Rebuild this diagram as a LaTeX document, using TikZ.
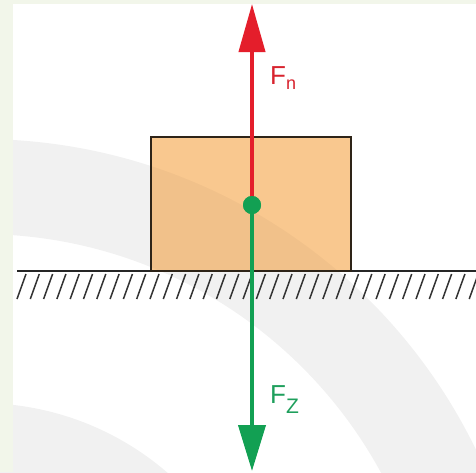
\documentclass[tikz,border=0pt]{standalone}
\usepackage{fontspec}
\setmainfont{Liberation Sans}
\usetikzlibrary{arrows.meta}
\definecolor{boxfill}{HTML}{F9C88F}
\definecolor{boxline}{HTML}{2E2418}
\definecolor{fred}{HTML}{E41E2B}
\definecolor{fgreen}{HTML}{12A053}
\definecolor{tred}{HTML}{D8232E}
\definecolor{tgreen}{HTML}{1E9F5C}
\definecolor{strip}{HTML}{F2F6EA}
\tikzset{
  groundline/.style={line width=2.6pt, black!85},
  hatchline/.style={line width=1.5pt, black!80},
  block/.style={fill=boxfill, outer sep=0pt, inner sep=0pt},
  blockborder/.style={draw=boxline, line width=1.8pt},
  redforce/.style={draw=fred, line width=4pt, -{Triangle[length=48pt,width=26pt]}},
  greenforce/.style={draw=fgreen, line width=4pt, -{Triangle[length=46pt,width=27pt]}},
  cgdot/.style={circle, fill=fgreen, inner sep=0pt, minimum size=18pt},
  forcelabel/.style={inner sep=0pt, anchor=base west},
  watermark/.style={fill=black, opacity=0.055},
  boxmark/.style={fill=black, opacity=0.03}
}
\begin{document}
\begin{tikzpicture}[x=1pt,y=-1pt]
\useasboundingbox (0,0) rectangle (476,472);
\fill[white] (0,0) rectangle (476,472);
% watermark arcs
\fill[watermark, even odd rule] (-20,690) circle (551) (-20,690) circle (456);
\fill[watermark] (-20,690) circle (287);
% pale border strips
\fill[strip] (0,0) rectangle (13,472);
\fill[strip] (0,0) rectangle (476,4);
% ground
\coordinate (gl) at (17,271);
\coordinate (gr) at (476,271);
\foreach \i in {0,...,34} {
  \draw[hatchline] ({17+13.3*\i},299) -- ({26+13.3*\i},274);
}
\draw[groundline] (gl) -- (gr);
% block
\node[block, minimum width=200pt, minimum height=134pt, anchor=south west] (box) at (151,271) {};
\begin{scope}
  \clip (box.south west) rectangle (box.north east);
  \fill[boxmark, even odd rule] (-20,690) circle (551) (-20,690) circle (456);
\end{scope}
\draw[blockborder] (box.south west) rectangle (box.north east);
% forces
\node[cgdot] (cg) at (252,205) {};
\coordinate (ntip) at (252,4);
\coordinate (ztip) at (252,471);
\draw[redforce] (cg.center) -- (ntip);
\draw[greenforce] (cg.center) -- (ztip);
\node[cgdot] at (cg) {};
% labels
\node[forcelabel, text=tred] (fn) at (270,84) {\fontsize{26}{26}\selectfont F\raisebox{-5pt}{\fontsize{18}{18}\selectfont n}};
\node[forcelabel, text=tgreen] (fz) at (270,403) {\fontsize{26}{26}\selectfont F\raisebox{-10pt}{\fontsize{21}{21}\selectfont Z}};
\end{tikzpicture}
\end{document}
